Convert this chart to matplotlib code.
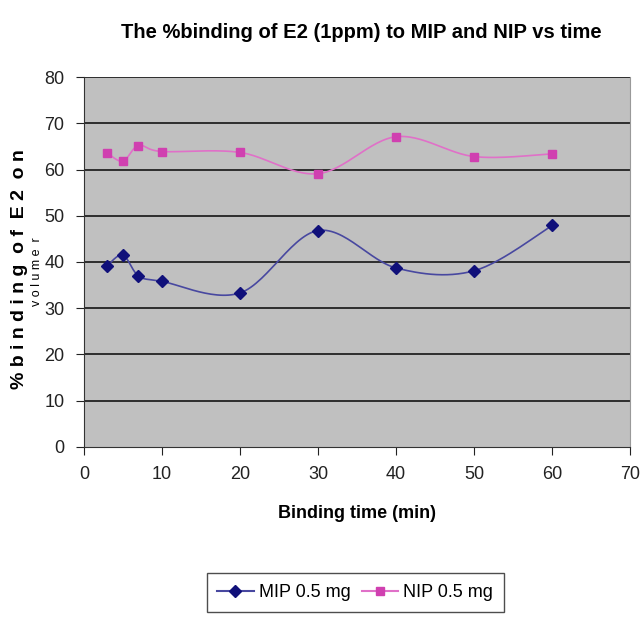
import numpy as np
import matplotlib.pyplot as plt

# binding time (min)
time = [3, 5, 7, 10, 20, 30, 40, 50, 60]
# % binding of E2
mip = [39.2, 41.5, 37.0, 35.8, 33.3, 46.8, 38.7, 38.1, 47.9]
nip = [63.6, 61.8, 65.2, 63.9, 63.7, 59.1, 67.1, 62.8, 63.4]

xticks = [0, 10, 20, 30, 40, 50, 60, 70]
yticks = [0, 10, 20, 30, 40, 50, 60, 70, 80]

plt.rcParams['font.family'] = ['Liberation Sans', 'DejaVu Sans']


def smooth(xs, ys, sx=7.77, sy=4.62, n=30):
    # excel-like smoothed line: bezier segments with catmull-rom controls
    p = np.column_stack([np.array(xs) * sx, np.array(ys) * sy])
    out = []
    for i in range(len(p) - 1):
        p0 = p[i - 1] if i > 0 else p[i]
        p1, p2 = p[i], p[i + 1]
        p3 = p[i + 2] if i + 2 < len(p) else p[i + 1]
        c1 = p1 + (p2 - p0) / 6
        c2 = p2 - (p3 - p1) / 6
        t = np.linspace(0, 1, n)[:, None]
        seg = (1 - t) ** 3 * p1 + 3 * (1 - t) ** 2 * t * c1 + 3 * (1 - t) * t ** 2 * c2 + t ** 3 * p2
        out.append(seg)
    out = np.vstack(out)
    return out[:, 0] / sx, out[:, 1] / sy


fig = plt.figure(figsize=(6.4, 6.32), dpi=100)
ax = fig.add_axes([0.131, 0.293, 0.854, 0.585])
ax.set_facecolor('#c0c0c0')

for y in yticks[1:]:
    ax.axhline(y, color='#222222', lw=1.3, zorder=1)

mx, my = smooth(time, mip)
nx, ny = smooth(time, nip)
ax.plot(mx, my, color='#4848a0', lw=1.2, zorder=2)
ax.plot(time, mip, ls='none', marker='D', ms=6, color='#10107a', zorder=3)
ax.plot(nx, ny, color='#e070c8', lw=1.2, zorder=2)
ax.plot(time, nip, ls='none', marker='s', ms=6, color='#d040b0', zorder=3)

ax.set_xlim(0, 70)
ax.set_ylim(0, 80)
ax.set_xticks(xticks)
ax.set_yticks(yticks)
ax.tick_params(axis='both', direction='out', length=6, labelsize=13, colors='#222222', pad=8)
ax.spines['top'].set_visible(False)
ax.spines['right'].set_color('#999999')
ax.spines['left'].set_color('#333333')
ax.spines['bottom'].set_color('#333333')

ax.set_xlabel('Binding time (min)', fontsize=13, fontweight='bold', labelpad=16)

fig.text(0.565, 0.948, 'The %binding of E2 (1ppm) to MIP and NIP vs time',
         ha='center', va='center', fontsize=14.5, fontweight='bold')
fig.text(0.031, 0.575, '% b i n d i n g  o f  E 2  o n', rotation=90,
         ha='center', va='center', fontsize=14, fontweight='bold')
fig.text(0.058, 0.57, 'v o l u m e  r', rotation=90,
         ha='center', va='center', fontsize=9)

mline, = ax.plot([], [], color='#4848a0', marker='D', ms=6, mfc='#10107a', mec='#10107a')
nline, = ax.plot([], [], color='#e070c8', marker='s', ms=6, mfc='#d040b0', mec='#d040b0')
leg = fig.legend([mline, nline], ['MIP 0.5 mg', 'NIP 0.5 mg'], loc='center',
                 bbox_to_anchor=(0.555, 0.062), ncol=2, fontsize=13, fancybox=False,
                 edgecolor='#222222', handlelength=2.0, handletextpad=0.3, columnspacing=0.6,
                 borderpad=0.6)
leg.get_frame().set_linewidth(1.0)

fig.savefig('out.png', dpi=100, facecolor='white')
